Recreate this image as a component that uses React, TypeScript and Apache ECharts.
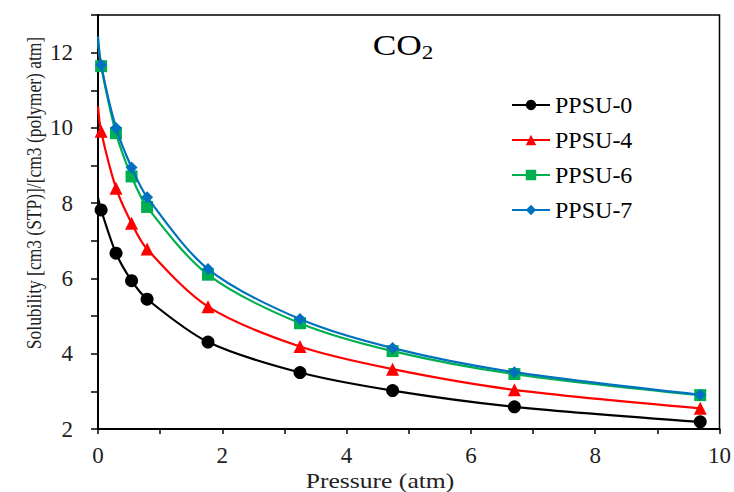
import React, { useEffect, useRef } from "react";
import * as echarts from "echarts";

const pressure = [0.05, 0.29, 0.54, 0.79, 1.77, 3.25, 4.74, 6.7, 9.69];
const seriesNames = ["PPSU-0", "PPSU-4", "PPSU-6", "PPSU-7"];
const ppsu0 = [7.82, 6.67, 5.94, 5.45, 4.31, 3.5, 3.02, 2.59, 2.19];
const ppsu4 = [9.91, 8.4, 7.47, 6.78, 5.25, 4.19, 3.59, 3.04, 2.55];
const ppsu6 = [11.64, 9.86, 8.71, 7.9, 6.1, 4.81, 4.07, 3.46, 2.9];
const ppsu7 = [11.68, 10.0, 8.95, 8.16, 6.25, 4.92, 4.15, 3.51, 2.91];
// fitted curve value at zero pressure (start of each line)
const curveStart = [8.15, 10.57, 12.3, 12.43];
const xTicks = [0, 2, 4, 6, 8, 10];
const yTicks = [2, 4, 6, 8, 10, 12];

const colors = ["#000000", "#ff0000", "#00b050", "#0070c0"];
const symbols = ["circle", "triangle", "rect", "diamond"];
const symbolSizes = [13, 13, 12, 12];
const FONT = "'Liberation Serif', 'Times New Roman', serif";

export default function App() {
  const ref = useRef<HTMLDivElement>(null);
  useEffect(() => {
    if (!ref.current) return;
    const chart = echarts.init(ref.current, null, { renderer: "svg" });
    const values = [ppsu0, ppsu4, ppsu6, ppsu7];
    const series = values.map((vals, i) => ({
      name: seriesNames[i],
      type: "line",
      smooth: 0.3,
      symbol: symbols[i],
      symbolSize: symbolSizes[i],
      showAllSymbol: true,
      lineStyle: { color: colors[i], width: 2.2 },
      itemStyle: { color: colors[i] },
      data: [
        { value: [0, curveStart[i]], symbol: "none" },
        ...vals.map((v, k) => [pressure[k], v]),
      ],
      z: 2 + i,
    }));
    chart.setOption({
      animation: false,
      backgroundColor: "#ffffff",
      textStyle: { fontFamily: FONT },
      grid: {
        left: 98,
        right: 14,
        top: 15,
        bottom: 63,
        show: true,
        borderColor: "#000",
        borderWidth: 1.5,
      },
      legend: {
        orient: "vertical",
        left: 511,
        top: 93,
        padding: 0,
        itemWidth: 38,
        itemHeight: 13,
        itemGap: 11,
        data: seriesNames,
        textStyle: { fontFamily: FONT, fontSize: 24, color: "#000" },
      },
      xAxis: {
        type: "value",
        min: 0,
        max: 10,
        interval: 1,
        axisLine: { show: true, onZero: false, lineStyle: { color: "#000", width: 2 } },
        axisTick: { show: true, length: 5, lineStyle: { color: "#000", width: 1.5 } },
        splitLine: { show: false },
        axisLabel: {
          margin: 15,
          fontFamily: FONT,
          fontSize: 23,
          color: "#222",
          formatter: (v: number) => (xTicks.includes(v) ? String(v) : ""),
        },
      },
      yAxis: {
        type: "value",
        min: 2,
        max: 13,
        interval: 1,
        axisLine: { show: true, onZero: false, lineStyle: { color: "#000", width: 2 } },
        axisTick: { show: true, length: 7, lineStyle: { color: "#000", width: 1.5 } },
        splitLine: { show: false },
        axisLabel: {
          margin: 25,
          fontFamily: FONT,
          fontSize: 23,
          color: "#222",
          formatter: (v: number) => (yTicks.includes(v) ? String(v) : ""),
        },
      },
      graphic: [
        {
          type: "text",
          x: 33,
          y: 193,
          rotation: Math.PI / 2,
          scaleX: 0.92,
          scaleY: 1.15,
          style: {
            text: "Solubility [cm3 (STP)]/[cm3 (polymer) atm]",
            fontFamily: FONT,
            fontSize: 19,
            fill: "#222",
            textAlign: "center",
            textVerticalAlign: "middle",
          },
        },
        {
          type: "text",
          x: 380,
          y: 481,
          scaleX: 1.22,
          style: {
            text: "Pressure (atm)",
            fontFamily: FONT,
            fontSize: 21,
            fill: "#222",
            textAlign: "center",
            textVerticalAlign: "middle",
          },
        },
        {
          type: "text",
          x: 403,
          y: 45,
          scaleX: 1.22,
          style: {
            text: "{a|CO}{b|2}",
            textAlign: "center",
            textVerticalAlign: "middle",
            rich: {
              a: { fontFamily: FONT, fontSize: 29, fill: "#000" },
              b: { fontFamily: FONT, fontSize: 19, fill: "#000", padding: [16, 0, 0, 0] },
            },
          },
        },
      ],
      series,
    } as any);
    return () => chart.dispose();
  }, []);
  return (
    <div
      ref={ref}
      style={{ position: "absolute", left: 0, top: 0, width: 734, height: 492 }}
    />
  );
}
